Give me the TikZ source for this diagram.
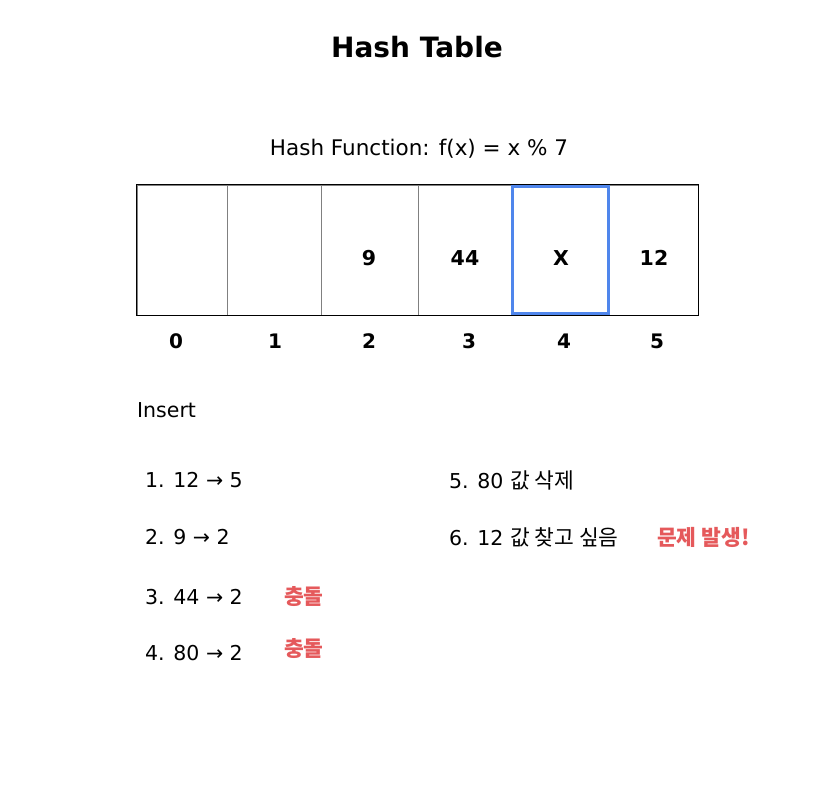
\documentclass[tikz,border=0pt]{standalone}
\usepackage{fontspec}
\setmainfont{DejaVu Sans}
\newfontfamily\kr{Noto Sans CJK KR}
\definecolor{hred}{HTML}{E5595B}
\definecolor{hblue}{HTML}{4F86EC}
\newcommand{\krtxt}[1]{{\kr\fontsize{21.5}{24}\selectfont #1}}
\begin{document}
\begin{tikzpicture}[x=1pt,y=-1pt,
  cellbox/.style={draw=black!50, line width=0.9pt, minimum height=130pt, inner sep=0pt},
  celltxt/.style={anchor=base, font=\fontsize{20.5}{24}\selectfont\bfseries},
  idx/.style={anchor=base, font=\fontsize{20}{24}\selectfont\bfseries},
  txt/.style={anchor=west, inner sep=0pt, font=\fontsize{20.5}{24}\selectfont},
  redtxt/.style={anchor=west, inner sep=0pt, text=hred, font=\kr\fontsize{21.5}{24}\selectfont\bfseries}]
\useasboundingbox (0,0) rectangle (836,811);
\fill[white] (0,0) rectangle (836,811);
\node[font=\fontsize{28}{32}\selectfont\bfseries] (title) at (417,47) {Hash Table};
\node[font=\fontsize{21.5}{25}\selectfont] (hf) at (419,149) {Hash Function: f(x) = x \% 7};
% cells
\node[cellbox, minimum width=90pt] (c0) at (182,250) {};
\node[cellbox, minimum width=94pt] (c1) at (274,250) {};
\node[cellbox, minimum width=97pt] (c2) at (369.5,250) {};
\node[cellbox, minimum width=94pt] (c3) at (465,250) {};
\node[cellbox, minimum width=97pt] (c4) at (560.5,250) {};
\node[cellbox, minimum width=89pt] (c5) at (653.5,250) {};
\draw[black, line width=0.9pt] (c0.north west) rectangle (c5.south east);
\node[draw=hblue, line width=2.4pt, minimum width=96pt, minimum height=127pt, inner sep=0pt] (cx) at (560.5,250) {};
\node[celltxt] (v2) at (369,265) {9};
\node[celltxt] (v3) at (465,265) {44};
\node[celltxt] (v4) at (561,265) {X};
\node[celltxt] (v5) at (654,265) {12};
% indices
\node[idx] (i0) at (176,348) {0};
\node[idx] (i1) at (275,348) {1};
\node[idx] (i2) at (369,348) {2};
\node[idx] (i3) at (469,348) {3};
\node[idx] (i4) at (564,348) {4};
\node[idx] (i5) at (657,348) {5};
% list
\node[txt] (ins) at (137,410) {Insert};
\node[txt] (s1) at (145,480) {1. 12 → 5};
\node[txt] (s2) at (145,537) {2. 9 → 2};
\node[txt] (s3) at (145,597) {3. 44 → 2};
\node[txt] (s4) at (145,653) {4. 80 → 2};
\node[redtxt] (k3) at (284,597) {충돌};
\node[redtxt] (k4) at (284,649) {충돌};
\node[txt] (s5) at (449,480) {5. 80 \krtxt{값 삭제}};
\node[txt] (s6) at (449,537) {6. 12 \krtxt{값 찾고 싶음}};
\node[redtxt] (p6) at (657,537) {문제 발생!};
\end{tikzpicture}
\end{document}
